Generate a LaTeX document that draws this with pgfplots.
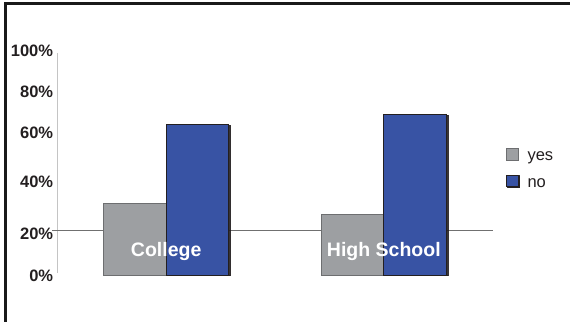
\documentclass[border=0pt]{standalone}
\usepackage{fontspec}
\setmainfont{Liberation Sans}
\usepackage{pgfplots}
\pgfplotsset{compat=1.18}
\usetikzlibrary{shadows}

\definecolor{barGray}{HTML}{9D9FA2}
\definecolor{barGrayEdge}{HTML}{6D6E70}
\definecolor{barBlue}{HTML}{3853A4}
\definecolor{inkDark}{HTML}{231F20}
\definecolor{axisGray}{HTML}{C4C4C4}
\definecolor{lineGray}{HTML}{707070}

\pgfplotsset{
  sq legend/.style={
    legend image code/.code={\draw[##1, line width=0.8bp] (0bp,-3.3bp) rectangle (12bp,8.4bp);}
  }
}

\begin{document}
\begin{tikzpicture}
\begin{axis}[
  at={(57.3bp,42.6bp)}, anchor=south west,
  scale only axis,
  width=435.4bp, height=230.6bp,
  xmin=-0.5, xmax=1.5, ymin=-2, ymax=102,
  clip=false,
  axis on top,
  axis line style={draw=none},
  major tick length=0pt,
  xtick={0,1},
  xticklabels={College, High School},
  xticklabel style={anchor=base, yshift=22.7bp, text=white,
    font=\fontsize{19.5bp}{23bp}\selectfont\bfseries},
  ytick={-0.3,18.5,41.8,63.9,82.7,101.1},
  yticklabels={0\%,20\%,40\%,60\%,80\%,100\%},
  yticklabel style={anchor=east, inner sep=0pt, xshift=-4bp, text=inkDark,
    font=\fontsize{16.5bp}{19.8bp}\selectfont\bfseries},
  legend style={at={(axis cs:1.5,57.2)}, anchor=north west, xshift=13bp,
    draw=none, fill=none, inner sep=0pt, outer sep=0pt,
    nodes={inner sep=0pt, outer sep=0pt},
    row sep=12.5bp, column sep=9bp, text=inkDark,
    font=\fontsize{16.5bp}{19.8bp}\selectfont},
  legend cell align=left,
]
% vertical value axis and the 20% reference line
\draw[axisGray, line width=0.8bp] (axis cs:-0.5,0.8) -- (axis cs:-0.5,100);
\draw[lineGray, line width=1bp] (axis cs:-0.523,20) -- (axis cs:1.5,20);

\addplot[ybar, sq legend, bar width=62.5bp, bar shift=-31.25bp,
  fill=barGray, draw=barGrayEdge, line width=0.8bp]
  coordinates {(0,32.3) (1,27.4)};
\addlegendentry{yes}
\addplot[ybar, sq legend, bar width=62.5bp, bar shift=31.25bp,
  fill=barBlue, draw=inkDark, line width=0.9bp,
  drop shadow={shadow xshift=1.6bp, shadow yshift=-0.8bp, fill=inkDark, opacity=0.9}]
  coordinates {(0,67.7) (1,72.5)};
\addlegendentry{no}
\end{axis}
% outer frame (left and top edges)
\draw[black!90, line width=3bp] (5.5bp,-5bp) -- (5.5bp,318.5bp) -- (580bp,318.5bp);
\pgfresetboundingbox
\path[use as bounding box] (0,0) rectangle (570bp,322bp);
\end{tikzpicture}
\end{document}
